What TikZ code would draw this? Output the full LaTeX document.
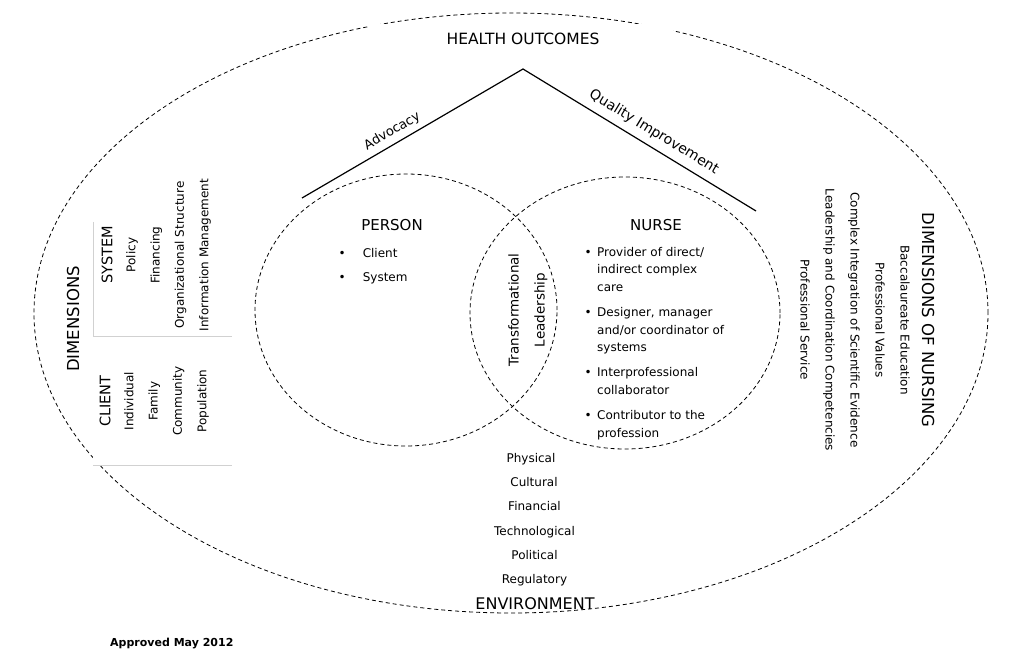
\documentclass[tikz,border=0pt]{standalone}
\usepackage{fontspec}
\setmainfont{DejaVu Sans}

\begin{document}
\begin{tikzpicture}[x=1pt, y=-1pt,
  ring/.style = {dash pattern=on 4pt off 3pt, line width=0.8pt},
  roof/.style = {line width=1.2pt},
  tablerule/.style = {draw=black!18, line width=0.8pt},
  big/.style = {font=\fontsize{16}{19}\selectfont, inner sep=0pt},
  title/.style = {font=\fontsize{15}{18}\selectfont, inner sep=0pt},
  sub/.style = {font=\fontsize{14.5}{17}\selectfont, inner sep=0pt},
  txt/.style = {font=\fontsize{12}{14}\selectfont, inner sep=0pt},
  rotlist/.style = {font=\fontsize{12}{24.3}\selectfont, align=center, inner sep=0pt}]
\path[use as bounding box, fill=white] (0,0) rectangle (1024,660);
\draw[ring] (511,313) ellipse [x radius=477pt, y radius=300pt];
\fill[white] (370,24.5) rectangle (673,56);
\fill[white] (93,336) rectangle (232,465);
\node[title, font=\fontsize{15.5}{18}\selectfont] (health) at (523,38.5) {HEALTH OUTCOMES};
\coordinate (roofl) at (302,198);
\coordinate (apex) at (523,69);
\coordinate (roofr) at (756,211);
\draw[roof] (roofl) -- node[pos=0.436, sloped, above=2pt, font=\fontsize{13}{15}\selectfont] (advocacy) {Advocacy} (apex)
  -- node[pos=0.53, sloped, above=3.6pt, font=\fontsize{14}{16}\selectfont] (quality) {Quality Improvement} (roofr);
\draw[ring] (406,310) ellipse [x radius=151pt, y radius=136pt];
\draw[ring] (625,313) ellipse [x radius=155pt, y radius=136pt];
\node[title] (person) at (392,225) {PERSON};
\node[title] (nurse) at (656,225) {NURSE};
\node[txt, font=\fontsize{12}{24}\selectfont, anchor=base west] (personlist) at (338.5,257) {\begin{tabular}[t]{@{}l@{\hspace{17pt}}l@{}}
\textbullet & Client\\
\textbullet & System
\end{tabular}};
\node[txt, font=\fontsize{12}{17.7}\selectfont, anchor=base west] (nurselist) at (584.5,256) {\begin{tabular}[t]{@{}l@{\hspace{5.4pt}}l@{}}
\textbullet & Provider of direct/\\
 & indirect complex\\
 & care\\[7.3pt]
\textbullet & Designer, manager\\
 & and/or coordinator of\\
 & systems\\[7.3pt]
\textbullet & Interprofessional\\
 & collaborator\\[7.3pt]
\textbullet & Contributor to the\\
 & profession
\end{tabular}};
\node[rotlist, font=\fontsize{13.5}{26}\selectfont, rotate=90] (bridge) at (528,310) {Transformational\\Leadership};
\node[txt, anchor=base] (physical) at (531,462) {Physical};
\node[txt, anchor=base] (cultural) at (534,486) {Cultural};
\node[txt, anchor=base] (financial) at (534.5,510) {Financial};
\node[txt, anchor=base] (technological) at (534.5,535) {Technological};
\node[txt, anchor=base] (political) at (534.5,559) {Political};
\node[txt, anchor=base] (regulatory) at (534.5,583) {Regulatory};
\node[big, anchor=base] (environment) at (535,609) {ENVIRONMENT};
\draw[tablerule] (93,222) -- (93,336) -- (232,336);
\draw[tablerule] (93,465) -- (232,465);
\node[big, font=\fontsize{16.5}{19}\selectfont, rotate=90] (dims) at (73,319) {DIMENSIONS};
\node[sub, rotate=90] (system) at (107,255) {SYSTEM};
\node[rotlist, rotate=90] (systemlist) at (168.5,255) {Policy\\Financing\\Organizational Structure\\Information Management};
\node[sub, rotate=90] (client) at (105,401) {CLIENT};
\node[rotlist, rotate=90] (clientlist) at (166.5,401) {Individual\\Family\\Community\\Population};
\node[big, font=\fontsize{16.5}{19}\selectfont, rotate=-90] (nursingdims) at (928,320) {DIMENSIONS OF NURSING};
\node[rotlist, font=\fontsize{12}{25}\selectfont, rotate=-90] (nursinglist) at (855,320) {Baccalaureate Education\\Professional Values\\Complex Integration of Scientific Evidence\\Leadership and Coordination Competencies\\Professional Service};
\node[txt, font=\bfseries\fontsize{11}{13}\selectfont, anchor=base west] (approved) at (110,646) {Approved May 2012};
\end{tikzpicture}
\end{document}
